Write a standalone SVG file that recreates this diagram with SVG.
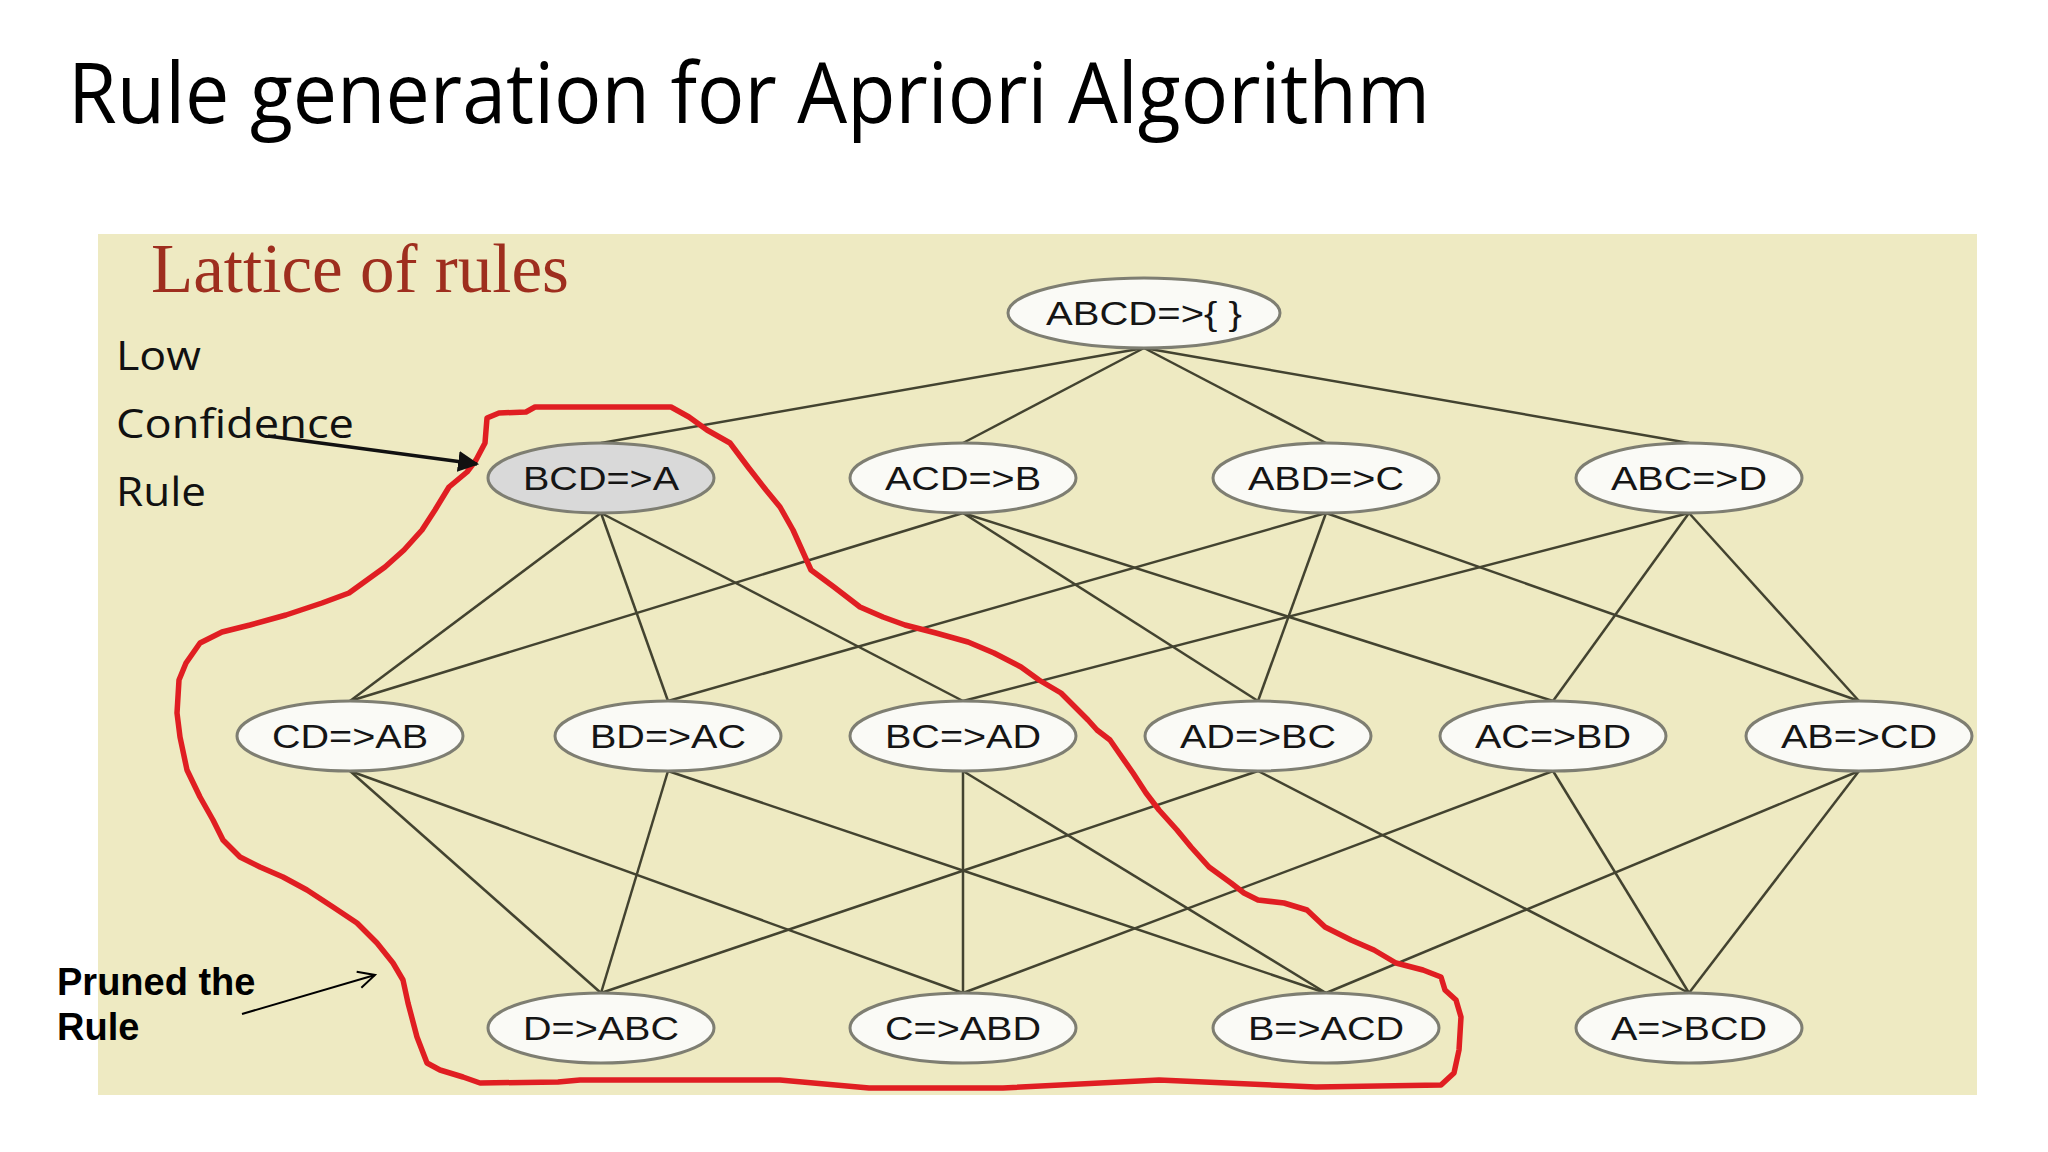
<svg xmlns="http://www.w3.org/2000/svg" width="2048" height="1152" viewBox="0 0 2048 1152">
<style>
.node ellipse{fill:#FAFAF6;stroke:#7E7E72;stroke-width:3}
.node.low ellipse{fill:#D9D9D9}
.node text{font-family:"Liberation Sans",Arial,sans-serif;font-size:33px;fill:#151515;text-anchor:middle}
#connectors line{stroke:#434330;stroke-width:2.5}
.note{font-family:"Open Sans","Liberation Sans",sans-serif;font-size:40px;fill:#111}
.pruned{font-family:"Liberation Sans",Arial,sans-serif;font-weight:bold;font-size:38px;fill:#000}
</style>
<defs>
<marker id="tri" viewBox="0 0 10 10" refX="9" refY="5" markerWidth="6" markerHeight="6" orient="auto" markerUnits="strokeWidth">
<path d="M0,0 L10,5 L0,10 z" fill="#111"/>
</marker>
<marker id="open" viewBox="0 0 12 12" refX="11" refY="6" markerWidth="10" markerHeight="10" orient="auto" markerUnits="strokeWidth">
<path d="M1,1 L11,6 L1,11" fill="none" stroke="#000" stroke-width="1.2"/>
</marker>
</defs>
<rect width="2048" height="1152" fill="#FFFFFF"/>
<text x="68" y="123" font-family="'Open Sans','Liberation Sans',sans-serif" font-size="84" fill="#000" textLength="1362" lengthAdjust="spacingAndGlyphs">Rule generation for Apriori Algorithm</text>
<rect x="98" y="234" width="1879" height="861" fill="#EEEAC2"/>
<text x="151" y="292" font-family="'Liberation Serif','Times New Roman',serif" font-size="70" fill="#9E2E1E" textLength="418" lengthAdjust="spacingAndGlyphs">Lattice of rules</text>
<text class="note" x="116" y="370" textLength="85" lengthAdjust="spacingAndGlyphs">Low</text>
<text class="note" x="116" y="438" textLength="238" lengthAdjust="spacingAndGlyphs">Confidence</text>
<text class="note" x="116" y="506" textLength="90" lengthAdjust="spacingAndGlyphs">Rule</text>
<g id="connectors">
<line x1="1144" y1="348" x2="601" y2="443"/>
<line x1="1144" y1="348" x2="963" y2="443"/>
<line x1="1144" y1="348" x2="1326" y2="443"/>
<line x1="1144" y1="348" x2="1689" y2="443"/>
<line x1="601" y1="513" x2="350" y2="701"/>
<line x1="601" y1="513" x2="668" y2="701"/>
<line x1="601" y1="513" x2="963" y2="701"/>
<line x1="963" y1="513" x2="350" y2="701"/>
<line x1="963" y1="513" x2="1258" y2="701"/>
<line x1="963" y1="513" x2="1553" y2="701"/>
<line x1="1326" y1="513" x2="668" y2="701"/>
<line x1="1326" y1="513" x2="1258" y2="701"/>
<line x1="1326" y1="513" x2="1859" y2="701"/>
<line x1="1689" y1="513" x2="963" y2="701"/>
<line x1="1689" y1="513" x2="1553" y2="701"/>
<line x1="1689" y1="513" x2="1859" y2="701"/>
<line x1="350" y1="771" x2="601" y2="993"/>
<line x1="350" y1="771" x2="963" y2="993"/>
<line x1="668" y1="771" x2="601" y2="993"/>
<line x1="668" y1="771" x2="1326" y2="993"/>
<line x1="963" y1="771" x2="963" y2="993"/>
<line x1="963" y1="771" x2="1326" y2="993"/>
<line x1="1258" y1="771" x2="601" y2="993"/>
<line x1="1258" y1="771" x2="1689" y2="993"/>
<line x1="1553" y1="771" x2="963" y2="993"/>
<line x1="1553" y1="771" x2="1689" y2="993"/>
<line x1="1859" y1="771" x2="1326" y2="993"/>
<line x1="1859" y1="771" x2="1689" y2="993"/>
</g>
<g id="n-abcd" class="node"><ellipse cx="1144" cy="313" rx="136" ry="35"/><text x="1144" y="325" textLength="196" lengthAdjust="spacingAndGlyphs">ABCD=&gt;{ }</text></g>
<g id="n-bcd-a" class="node low"><ellipse cx="601" cy="478" rx="113" ry="35"/><text x="601" y="490" textLength="156" lengthAdjust="spacingAndGlyphs">BCD=&gt;A</text></g>
<g id="n-acd-b" class="node"><ellipse cx="963" cy="478" rx="113" ry="35"/><text x="963" y="490" textLength="156" lengthAdjust="spacingAndGlyphs">ACD=&gt;B</text></g>
<g id="n-abd-c" class="node"><ellipse cx="1326" cy="478" rx="113" ry="35"/><text x="1326" y="490" textLength="156" lengthAdjust="spacingAndGlyphs">ABD=&gt;C</text></g>
<g id="n-abc-d" class="node"><ellipse cx="1689" cy="478" rx="113" ry="35"/><text x="1689" y="490" textLength="156" lengthAdjust="spacingAndGlyphs">ABC=&gt;D</text></g>
<g id="n-cd-ab" class="node"><ellipse cx="350" cy="736" rx="113" ry="35"/><text x="350" y="748" textLength="156" lengthAdjust="spacingAndGlyphs">CD=&gt;AB</text></g>
<g id="n-bd-ac" class="node"><ellipse cx="668" cy="736" rx="113" ry="35"/><text x="668" y="748" textLength="156" lengthAdjust="spacingAndGlyphs">BD=&gt;AC</text></g>
<g id="n-bc-ad" class="node"><ellipse cx="963" cy="736" rx="113" ry="35"/><text x="963" y="748" textLength="156" lengthAdjust="spacingAndGlyphs">BC=&gt;AD</text></g>
<g id="n-ad-bc" class="node"><ellipse cx="1258" cy="736" rx="113" ry="35"/><text x="1258" y="748" textLength="156" lengthAdjust="spacingAndGlyphs">AD=&gt;BC</text></g>
<g id="n-ac-bd" class="node"><ellipse cx="1553" cy="736" rx="113" ry="35"/><text x="1553" y="748" textLength="156" lengthAdjust="spacingAndGlyphs">AC=&gt;BD</text></g>
<g id="n-ab-cd" class="node"><ellipse cx="1859" cy="736" rx="113" ry="35"/><text x="1859" y="748" textLength="156" lengthAdjust="spacingAndGlyphs">AB=&gt;CD</text></g>
<g id="n-d-abc" class="node"><ellipse cx="601" cy="1028" rx="113" ry="35"/><text x="601" y="1040" textLength="156" lengthAdjust="spacingAndGlyphs">D=&gt;ABC</text></g>
<g id="n-c-abd" class="node"><ellipse cx="963" cy="1028" rx="113" ry="35"/><text x="963" y="1040" textLength="156" lengthAdjust="spacingAndGlyphs">C=&gt;ABD</text></g>
<g id="n-b-acd" class="node"><ellipse cx="1326" cy="1028" rx="113" ry="35"/><text x="1326" y="1040" textLength="156" lengthAdjust="spacingAndGlyphs">B=&gt;ACD</text></g>
<g id="n-a-bcd" class="node"><ellipse cx="1689" cy="1028" rx="113" ry="35"/><text x="1689" y="1040" textLength="156" lengthAdjust="spacingAndGlyphs">A=&gt;BCD</text></g>
<path id="pruned-loop" fill="none" stroke="#E01E22" stroke-width="5.5" stroke-linejoin="round" stroke-linecap="round" d="M487,418 L499,413 L526,412 L535,407 L671,407 L689,417 L707,430 L730,443 L748,467 L766,490 L780,507 L793,530 L802,550 L811,570 L834,587 L860,607 L883,617 L905,625 L936,633 L968,642 L994,653 L1021,667 L1039,680 L1061,693 L1075,707 L1088,720 L1097,730 L1110,740 L1119,753 L1133,773 L1146,793 L1159,810 L1177,830 L1191,847 L1209,867 L1231,883 L1244,893 L1258,900 L1284,903 L1307,910 L1325,927 L1351,940 L1374,950 L1396,963 L1423,970 L1441,977 L1445,990 L1456,1000 L1461,1017 L1459,1050 L1454,1073 L1441,1085 L1316,1087 L1159,1080 L1003,1088 L869,1088 L780,1080 L580,1080 L558,1082 L480,1083 L463,1077 L440,1070 L427,1063 L417,1037 L408,1003 L403,980 L393,963 L377,943 L357,923 L333,907 L307,890 L283,877 L260,867 L240,857 L223,840 L213,820 L200,797 L187,770 L180,737 L177,713 L179,680 L186,663 L200,643 L222,632 L250,625 L286,615 L322,603 L349,593 L367,580 L385,567 L404,550 L422,530 L435,510 L449,487 L467,472 L476,460 L485,443 Z"/>
<line x1="268" y1="436" x2="477" y2="464" stroke="#111" stroke-width="3.5" marker-end="url(#tri)"/>
<text class="pruned" x="57" y="995">Pruned the</text>
<text class="pruned" x="57" y="1040">Rule</text>
<line x1="242" y1="1014" x2="375" y2="975" stroke="#000" stroke-width="2" marker-end="url(#open)"/>
</svg>
